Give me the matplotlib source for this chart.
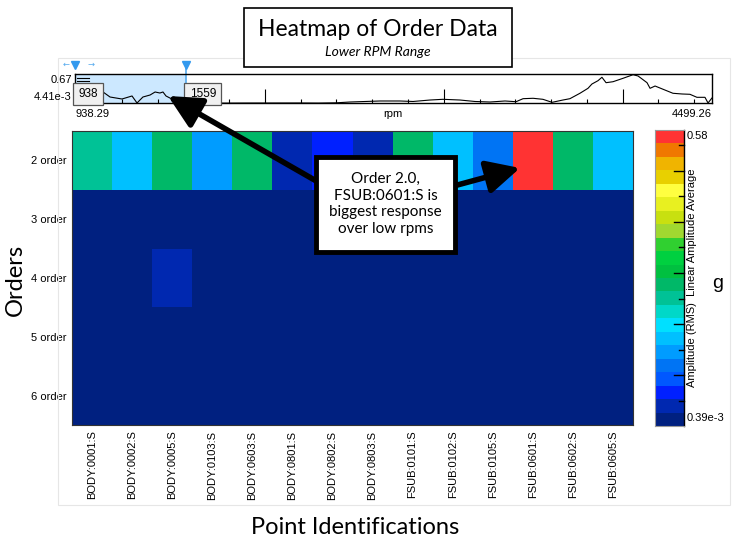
import numpy as np
import matplotlib
matplotlib.use("Agg")
import matplotlib.pyplot as plt
from matplotlib.colors import ListedColormap, BoundaryNorm
from matplotlib.patches import Rectangle, FancyArrowPatch

# ---- data ----
points = ["BODY:0001:S", "BODY:0002:S", "BODY:0005:S", "BODY:0103:S", "BODY:0603:S",
          "BODY:0801:S", "BODY:0802:S", "BODY:0803:S", "FSUB:0101:S", "FSUB:0102:S",
          "FSUB:0105:S", "FSUB:0601:S", "FSUB:0602:S", "FSUB:0605:S"]
orders = ["2 order", "3 order", "4 order", "5 order", "6 order"]

order2 = [0.25, 0.17, 0.28, 0.14, 0.27, 0.04, 0.07, 0.04, 0.28, 0.17, 0.12, 0.58, 0.27, 0.17]
order3 = [0.012, 0.010, 0.015, 0.009, 0.011, 0.006, 0.008, 0.007, 0.013, 0.010, 0.009, 0.018, 0.012, 0.010]
order4 = [0.008, 0.009, 0.035, 0.007, 0.010, 0.004, 0.005, 0.005, 0.009, 0.008, 0.007, 0.014, 0.009, 0.008]
order5 = [0.006, 0.005, 0.009, 0.005, 0.006, 0.003, 0.004, 0.003, 0.007, 0.005, 0.004, 0.010, 0.006, 0.005]
order6 = [0.004, 0.004, 0.006, 0.003, 0.005, 0.002, 0.003, 0.002, 0.005, 0.004, 0.003, 0.008, 0.005, 0.004]

vmin = 0.39e-3
vmax = 0.58

# overview trace (rpm, amplitude)
rpm = [1072, 1095, 1134, 1168, 1201, 1229, 1257, 1285, 1318, 1358, 1386, 1413, 1430, 1447,
       1469, 1497, 1525, 1564, 1700, 1900, 2196, 2300, 2400, 2475, 2643, 2755, 2828, 2923,
       2995, 3090, 3174, 3258, 3342, 3404, 3443, 3499, 3554, 3605, 3666, 3705, 3761, 3806,
       3828, 3862, 3884, 3907, 3946, 4002, 4058, 4086, 4136, 4153, 4181, 4226, 4281, 4332,
       4376, 4415, 4460, 4477, 4499]
amp = [0.309, 0.264, 0.151, 0.128, 0.106, 0.140, 0.174, 0.016, 0.151, 0.196, 0.264, 0.241,
       0.264, 0.174, 0.128, 0.083, 0.038, 0.016, 0.012, 0.015, 0.016, 0.014, 0.020, 0.038,
       0.061, 0.061, 0.050, 0.083, 0.099, 0.083, 0.050, 0.038, 0.061, 0.045, 0.113, 0.122,
       0.099, 0.031, 0.083, 0.113, 0.235, 0.347, 0.444, 0.519, 0.596, 0.474, 0.496, 0.573,
       0.654, 0.625, 0.474, 0.347, 0.399, 0.325, 0.235, 0.219, 0.212, 0.144, 0.144, 0.016,
       0.128]
rpm_min, rpm_max = 938.29, 4499.26
sel_lo, sel_hi = 938, 1559
amp_min, amp_max = 4.41e-3, 0.67

level_colors = ["#002080", "#0028B0", "#0020FF", "#0058FF", "#0074F4", "#009CFF", "#00C0FF",
                "#00E0FF", "#00D8C8", "#00C296", "#00B868", "#00C040", "#00D040", "#30D030",
                "#A0D830", "#C8E010", "#E8F020", "#FFFF40", "#E8D000", "#F0B400", "#F07800",
                "#FF3333"]

W, H = 732, 544
fig = plt.figure(figsize=(W / 100, H / 100), dpi=100)
fig.patch.set_facecolor("white")

def fx(px):
    return px / W

def fy(py):
    return 1 - py / H

tick_font = ["Liberation Sans", "DejaVu Sans"]
big_font = ["Lato", "DejaVu Sans"]

# light panel frame
fig.add_artist(Rectangle((fx(58), fy(505)), fx(672), (505 - 58) / H, transform=fig.transFigure,
                         fill=False, ec="#E6E6E6", lw=0.8))

# ---- title box ----
fig.add_artist(Rectangle((fx(244), fy(67)), fx(268), 59 / H, transform=fig.transFigure,
                         fc="white", ec="black", lw=1.2))
fig.text(fx(378), fy(29), "Heatmap of Order Data", ha="center", va="center",
         fontsize=16.5, family=big_font)
fig.text(fx(378), fy(52), "Lower RPM Range", ha="center", va="center",
         fontsize=10, style="italic", family=big_font)

# ---- overview strip ----
ov = fig.add_axes([fx(75), fy(103.5), fx(637), 29.5 / H])
ov.axvspan(sel_lo, sel_hi, color="#CCE8FF", lw=0)
ov.plot(rpm, amp, color="black", lw=0.8)
ov.set_xlim(rpm_min, rpm_max)
ov.set_ylim(amp_min, amp_max)
ov.set_yticks([])
ov.set_xticks([1000, 2000, 3000, 4000])
ov.set_xticks(np.arange(1200, 4500, 200), minor=True)
ov.tick_params(axis="x", which="major", direction="in", length=10, width=0.8, labelbottom=False)
ov.tick_params(axis="x", which="minor", direction="in", length=3, width=0.8)
for s in ov.spines.values():
    s.set_linewidth(1.0)
ov.axvline(sel_hi, color="#55AAEE", lw=1.2)
trans = ov.get_xaxis_transform()
ov.plot([sel_hi, sel_hi], [1.0, 1.3], transform=trans, clip_on=False, color="#55AAEE", lw=1.2)
ov.plot([sel_hi], [1.3], marker="v", ms=6, color="#3399EE", transform=trans, clip_on=False)
ov.plot([sel_lo], [1.3], marker="v", ms=6, color="#3399EE", transform=trans, clip_on=False)
ov.text(sel_lo - 50, 1.32, "\u2190", transform=trans, ha="center", va="center",
        fontsize=6, color="#55AAEE")
ov.text(sel_lo + 90, 1.32, "\u2192", transform=trans, ha="center", va="center",
        fontsize=6, color="#55AAEE")
for yy in [0.88, 0.76, 0.64]:
    ov.plot([0.003, 0.022], [yy, yy], transform=ov.transAxes, color="black", lw=0.8)
box_kw = dict(boxstyle="square,pad=0.45", fc="#F0F0F0", ec="#555555", lw=0.9)
ov.text(sel_lo + 75, 0.32, "938", transform=trans, ha="center", va="center", fontsize=8.5,
        family=tick_font, bbox=box_kw)
ov.text(sel_hi + 20, 0.32, "1559", transform=trans, ha="left", va="center", fontsize=8.5,
        family=tick_font, bbox=box_kw, zorder=10)
fig.text(fx(72), fy(80), "0.67", ha="right", va="center", fontsize=8, family=tick_font)
fig.text(fx(72), fy(97), "4.41e-3", ha="right", va="center", fontsize=8, family=tick_font)
fig.text(fx(75), fy(114), "938.29", ha="left", va="center", fontsize=8, family=tick_font)
fig.text(fx(393), fy(114), "rpm", ha="center", va="center", fontsize=8, family=tick_font)
fig.text(fx(712), fy(114), "4499.26", ha="right", va="center", fontsize=8, family=tick_font)

# ---- heatmap ----
cmap = ListedColormap(level_colors)
bounds = np.linspace(vmin, vmax, len(level_colors) + 1)
norm = BoundaryNorm(bounds, cmap.N, clip=True)

grid = np.array([order2, order3, order4, order5, order6])
ax = fig.add_axes([fx(72), fy(425), fx(561), 294 / H])
ax.pcolormesh(np.arange(len(points) + 1), np.arange(len(orders) + 1), grid,
              cmap=cmap, norm=norm)
ax.set_xlim(0, len(points))
ax.set_ylim(len(orders), 0)
ax.set_xticks(np.arange(len(points)) + 0.5)
ax.set_xticklabels(points, rotation=90, fontsize=8, family=tick_font)
ax.set_yticks(np.arange(len(orders)) + 0.5)
ax.set_yticklabels(orders, fontsize=8, family=tick_font)
ax.tick_params(length=0, pad=4)
for s in ax.spines.values():
    s.set_linewidth(0.8)
    s.set_color("#333333")

fig.text(fx(15), fy(280), "Orders", rotation=90, ha="center", va="center",
         fontsize=17, family=big_font)
fig.text(fx(355), fy(528), "Point Identifications", ha="center", va="center",
         fontsize=17, family=big_font)

# ---- colorbar ----
cax = fig.add_axes([fx(655), fy(426), fx(29), 296 / H])
cax.pcolormesh([0, 1], bounds, np.array(bounds[:-1] + np.diff(bounds) / 2).reshape(-1, 1),
               cmap=cmap, norm=norm)
cax.set_xlim(0, 1)
cax.set_ylim(vmin, vmax)
cax.set_xticks([])
cax.set_yticks([])
for t in np.arange(0.05, 0.56, 0.05):
    long_tick = abs(round(t * 10) - t * 10) < 1e-6
    ln = 0.35 if long_tick else 0.17
    cax.plot([1 - ln, 1], [t, t], color="black", lw=1.0, clip_on=False)
for k, s in cax.spines.items():
    s.set_color("#999999")
    s.set_linewidth(0.8)
cax.spines["right"].set_color("black")
cax.spines["right"].set_linewidth(1.0)
step = bounds[1] - bounds[0]
cax.text(1.1, vmax - step * 0.45, "0.58", transform=cax.get_yaxis_transform(),
         ha="left", va="center", fontsize=8, family=tick_font)
cax.text(1.1, vmin + step * 0.6, "0.39e-3", transform=cax.get_yaxis_transform(),
         ha="left", va="center", fontsize=8, family=tick_font)
fig.text(fx(692), fy(278), "Amplitude (RMS)  Linear Amplitude Average", rotation=90,
         ha="center", va="center", fontsize=8, family=tick_font)
fig.text(fx(718), fy(283), "g", ha="center", va="center", fontsize=14, family=tick_font)

# ---- annotation ----
arrow_kw = dict(arrowstyle="-|>,head_length=1.0,head_width=0.5", mutation_scale=20,
                color="black", lw=4, transform=fig.transFigure, shrinkA=0, shrinkB=0)
fig.add_artist(FancyArrowPatch((fx(318), fy(182)), (fx(168), fy(96)), **arrow_kw))
fig.add_artist(FancyArrowPatch((fx(450), fy(187)), (fx(520), fy(168)), **arrow_kw))
fig.add_artist(Rectangle((fx(316), fy(252)), fx(139), 95 / H, transform=fig.transFigure,
                         fc="white", ec="black", lw=3.5, zorder=5))
fig.text(fx(385.5), fy(204), "Order 2.0,\nFSUB:0601:S is\nbiggest response\nover low rpms",
         ha="center", va="center", fontsize=11, family=big_font, linespacing=1.25, zorder=6)

fig.savefig("out.png", dpi=100)
